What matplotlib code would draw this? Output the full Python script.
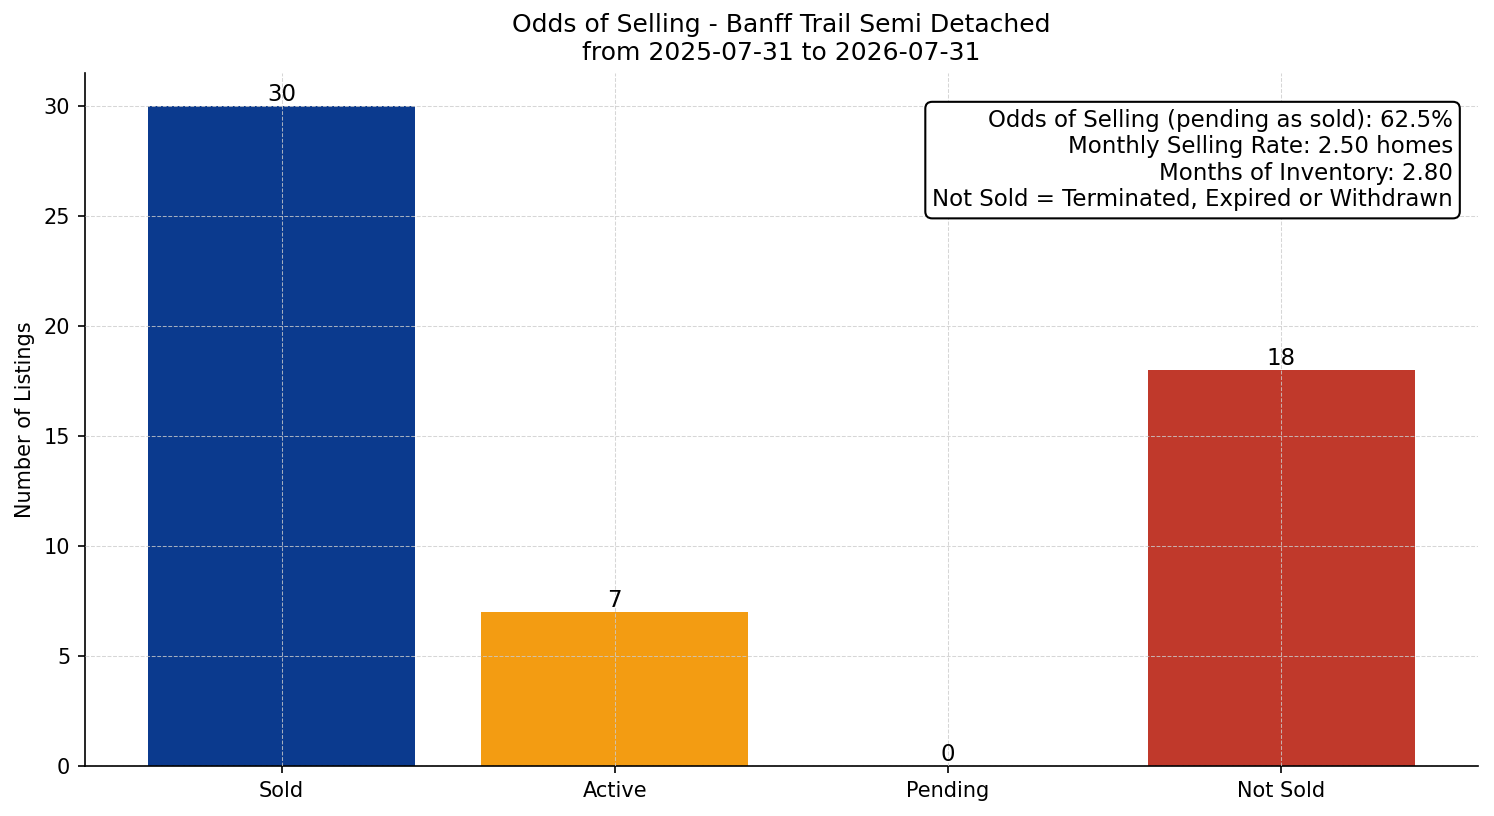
import matplotlib
matplotlib.use("Agg")
import matplotlib.pyplot as plt

categories = ["Sold", "Active", "Pending", "Not Sold"]
counts = [30, 7, 0, 18]
colors = ["#0b3a8e", "#f39c12", "#7f8c8d", "#c0392b"]
title = "Odds of Selling - Banff Trail Semi Detached\nfrom 2025-07-31 to 2026-07-31"
info_lines = [
    "Odds of Selling (pending as sold): 62.5%",
    "Monthly Selling Rate: 2.50 homes",
    "Months of Inventory: 2.80",
    "Not Sold = Terminated, Expired or Withdrawn",
]

fig, ax = plt.subplots(figsize=(9.96, 5.44), dpi=150)
bars = ax.bar(categories, counts, color=colors, width=0.8)
for b, v in zip(bars, counts):
    ax.text(b.get_x() + b.get_width() / 2, v, str(v), ha="center", va="bottom", fontsize=11)

ax.set_title(title, fontsize=12)
ax.set_ylabel("Number of Listings", fontsize=10)
ax.set_ylim(0, 31.5)
ax.grid(True, linestyle="--", linewidth=0.5, color="#cccccc", alpha=0.8)
ax.set_axisbelow(False)
ax.spines["top"].set_visible(False)
ax.spines["right"].set_visible(False)
ax.text(0.982, 0.948, "\n".join(info_lines), transform=ax.transAxes, ha="right", va="top",
        fontsize=11, bbox=dict(boxstyle="round,pad=0.3", facecolor="white", edgecolor="black"))
fig.subplots_adjust(left=0.0568, right=0.9893, top=0.911, bottom=0.061)
fig.savefig("out.png", dpi=150)
